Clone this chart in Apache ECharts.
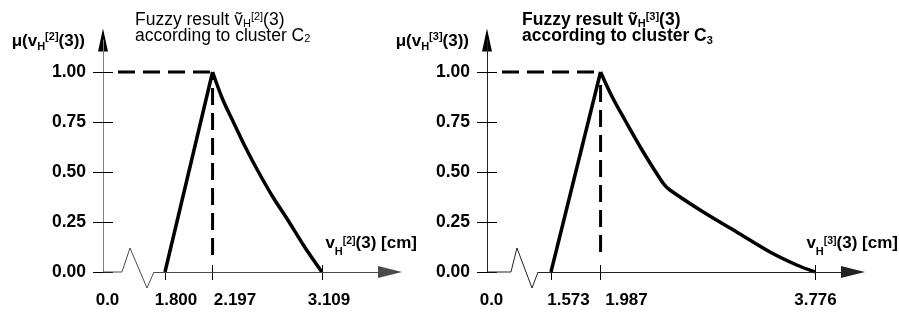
<!DOCTYPE html>
<html>
<head>
<meta charset="utf-8">
<script src="https://cdn.jsdelivr.net/npm/echarts@6/dist/echarts.min.js"></script>
<style>
html, body { margin: 0; padding: 0; background: #fff; }
#main { width: 899px; height: 314px; }
</style>
</head>
<body>
<div id="main"></div>
<script>
// y 轴刻度
var yTicks = [0, 0.25, 0.5, 0.75, 1];

// 左图：cluster C2
var c2Ticks = [1.800, 2.197, 3.109];
var c2Labels = ['0.0', '1.800', '2.197', '3.109'];
var c2Rise = [[1.800, 0], [2.197, 1]];
var c2Fall = [[2.197, 1], [2.28, 0.865], [2.37, 0.75], [2.47, 0.625], [2.58, 0.5], [2.70, 0.375], [2.83, 0.255], [2.965, 0.125], [3.109, 0]];
var c2Break = [[1.441, 0], [1.508, 0.12], [1.650, -0.08], [1.708, 0]];

// 右图：cluster C3
var c3Ticks = [1.573, 1.987, 3.776];
var c3Labels = ['0.0', '1.573', '1.987', '3.776'];
var c3Rise = [[1.573, 0], [1.987, 1]];
var c3Fall = [[1.987, 1], [2.08, 0.88], [2.19, 0.76], [2.333, 0.61], [2.508, 0.445], [2.566, 0.41], [2.844, 0.30], [3.123, 0.20], [3.401, 0.10], [3.624, 0.035], [3.776, 0]];
var c3Break = [[1.239, 0], [1.289, 0.12], [1.415, -0.08], [1.465, 0]];

var FONT = 'Liberation Sans, Arial, Helvetica, sans-serif';

var panels = [{
	grid: { left: 103, top: 40, width: 287, height: 232 },
	min: 1.283, max: 3.677,
	ticks: c2Ticks, labels: c2Labels, shift: [4.5, 11, 22.4, 7.1],
	rise: c2Rise, fall: c2Fall, brk: c2Break,
	yLine: '#808080', xLine: '#4a4a4a',
	vEnd: 0.085, nameGap: 27, idx: '2', bold: false, titleLeft: 135
}, {
	grid: { left: 487, top: 40, width: 366, height: 232 },
	min: 1.039, max: 4.094,
	ticks: c3Ticks, labels: c3Labels, shift: [4.5, 17.5, 25.9, 0.6],
	rise: c3Rise, fall: c3Fall, brk: c3Break,
	yLine: '#222', xLine: '#222',
	vEnd: 0.1, nameGap: 45, idx: '3', bold: true, titleLeft: 522
}];

var grids = [], xAxes = [], yAxes = [], series = [], titles = [];

panels.forEach(function (p, i) {
	var pxPerUnit = p.grid.width / (p.max - p.min);
	var labelValues = [p.min].concat(p.ticks);
	var peak = p.rise[1];
	var weight = p.bold ? 'bold' : 'normal';

	grids.push(Object.assign({ outerBoundsMode: 'none' }, p.grid));

	// 标签的横向偏移
	var labelRich = {};
	p.shift.forEach(function (s, k) {
		labelRich['s' + k] = {
			fontFamily: FONT, fontSize: 17, fontWeight: 'bold', color: '#000',
			padding: s >= 0 ? [0, 0, 0, 2 * s] : [0, -2 * s, 0, 0]
		};
	});

	xAxes.push({
		type: 'value', gridIndex: i, position: 'bottom',
		min: p.min, max: p.max,
		name: 'v{h|H}{b|[' + p.idx + ']}(3) [cm]',
		nameLocation: 'end', nameGap: p.nameGap,
		nameTextStyle: {
			align: 'right', verticalAlign: 'bottom', padding: [0, 0, 19, 0],
			fontFamily: FONT, fontSize: 17, fontWeight: 'bold', color: '#000', lineHeight: 20,
			rich: {
				h: { fontFamily: FONT, fontSize: 11, fontWeight: 'bold', color: '#000', lineHeight: 2, padding: [17, 0, 0, 0] },
				b: { fontFamily: FONT, fontSize: 10.5, fontWeight: 'bold', color: '#000', lineHeight: 2, padding: [0, 0, 3, 0] }
			}
		},
		axisLine: { show: false, onZero: false },
		axisTick: { customValues: p.ticks, length: 8, lineStyle: { color: '#000', width: 1 } },
		axisLabel: {
			customValues: labelValues, margin: 20,
			fontFamily: FONT, fontSize: 17, fontWeight: 'bold', color: '#000',
			formatter: function (v) {
				for (var k = 0; k < labelValues.length; k++) {
					if (Math.abs(labelValues[k] - v) < 1e-6) return '{s' + k + '|' + p.labels[k] + '}';
				}
				return '';
			},
			rich: labelRich
		},
		splitLine: { show: false }
	});
	xAxes.push({
		type: 'value', gridIndex: i, position: 'bottom',
		min: p.min, max: p.max,
		axisLine: { show: false, onZero: false },
		axisTick: { customValues: p.ticks, inside: true, length: 7, lineStyle: { color: '#000', width: 1 } },
		axisLabel: { show: false },
		splitLine: { show: false }
	});

	yAxes.push({
		type: 'value', gridIndex: i, position: 'left',
		min: 0, max: 1.16,
		name: 'μ(v{h|H}{b|[' + p.idx + ']}(3))',
		nameLocation: 'end', nameGap: -1,
		nameTextStyle: {
			align: 'right', verticalAlign: 'middle', padding: [0, 18, 0, 0],
			fontFamily: FONT, fontSize: 17, fontWeight: 'bold', color: '#000', lineHeight: 17,
			rich: {
				h: { fontFamily: FONT, fontSize: 11, fontWeight: 'bold', color: '#000', lineHeight: 2, padding: [12, 0, 0, 0] },
				b: { fontFamily: FONT, fontSize: 11, fontWeight: 'bold', color: '#000', lineHeight: 2, padding: [0, 0, 9, 0] }
			}
		},
		axisLine: {
			show: true, onZero: false,
			symbol: ['none', 'triangle'], symbolSize: [10, 23],
			lineStyle: { color: '#000', width: 1 }
		},
		axisTick: { customValues: yTicks, length: 10, lineStyle: { color: '#000', width: 1 } },
		axisLabel: {
			customValues: yTicks, margin: 17,
			fontFamily: FONT, fontSize: 17.5, fontWeight: 'bold', color: '#000',
			formatter: function (v) { return v.toFixed(2); }
		},
		splitLine: { show: false }
	});
	yAxes.push({
		type: 'value', gridIndex: i, position: 'left', z: 1,
		min: 0, max: 1.16,
		axisLine: { show: true, onZero: false, lineStyle: { color: p.yLine, width: 1 } },
		axisTick: { customValues: yTicks, inside: true, length: 10, lineStyle: { color: '#000', width: 1 } },
		axisLabel: { show: false },
		splitLine: { show: false }
	});

	var xi = 2 * i, yi = 2 * i;
	var base = [[p.min, 0]].concat(p.brk);

	// 断开的横轴与箭头
	series.push({
		type: 'line', xAxisIndex: xi, yAxisIndex: yi,
		data: base, symbol: 'none', clip: false, silent: true, animation: false,
		lineStyle: { color: p.xLine, width: 1 },
		markLine: {
			silent: true, animation: false,
			symbol: ['none', 'triangle'], symbolSize: [12, 24],
			label: { show: false },
			lineStyle: { type: 'solid', width: 1, color: p.xLine },
			data: [[{ coord: [p.brk[p.brk.length - 1][0], 0] }, { coord: [p.max, 0] }]]
		}
	});
	// 虚线
	series.push({
		type: 'line', xAxisIndex: xi, yAxisIndex: yi,
		data: [[p.min + 15 / pxPerUnit, 1], [peak[0], 1]],
		symbol: 'none', silent: true, animation: false,
		lineStyle: { color: '#000', width: 3, type: [17, 8] }
	});
	series.push({
		type: 'line', xAxisIndex: xi, yAxisIndex: yi,
		data: [[peak[0], p.vEnd], [peak[0], 1]],
		symbol: 'none', silent: true, animation: false,
		lineStyle: { color: '#000', width: 3, type: [17, 8] }
	});
	// 隶属函数
	series.push({
		type: 'line', xAxisIndex: xi, yAxisIndex: yi,
		data: p.rise, symbol: 'none', silent: true, animation: false,
		lineStyle: { color: '#000', width: 3.5, join: 'miter' }
	});
	series.push({
		type: 'line', xAxisIndex: xi, yAxisIndex: yi,
		data: p.fall, symbol: 'none', silent: true, animation: false,
		smooth: 0.3,
		lineStyle: { color: '#000', width: 3.5 }
	});

	titles.push({
		text: 'Fuzzy result ṽ{h|H}{b|[' + p.idx + ']}(3)\naccording to cluster C{c|' + p.idx + '}',
		left: p.titleLeft, top: 12, padding: 0,
		textStyle: {
			fontFamily: FONT, fontSize: 17.5, fontWeight: weight, color: '#000', lineHeight: 16,
			rich: {
				h: { fontFamily: FONT, fontSize: 11, fontWeight: weight, color: '#000', lineHeight: 2, padding: [8, 0, 0, 0] },
				b: { fontFamily: FONT, fontSize: 11, fontWeight: weight, color: '#000', lineHeight: 2, padding: [0, 0, 7, 0] },
				c: { fontFamily: FONT, fontSize: 11, fontWeight: weight, color: '#000', lineHeight: 2, padding: [p.bold ? 10 : 6, 0, 0, 0] }
			}
		}
	});
});

var myChart = echarts.init(document.getElementById('main'));
myChart.setOption({
	animation: false,
	backgroundColor: '#fff',
	title: titles,
	grid: grids,
	xAxis: xAxes,
	yAxis: yAxes,
	series: series
});
</script>
</body>
</html>
